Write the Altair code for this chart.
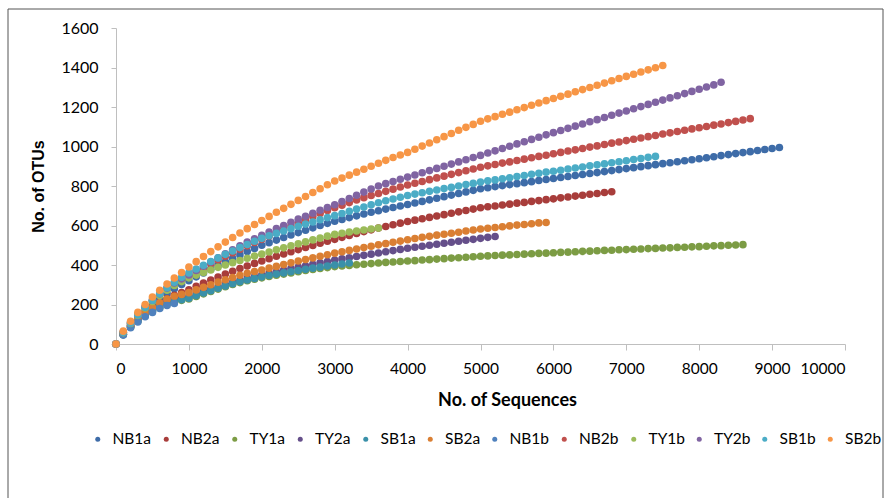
import altair as alt
import pandas as pd

series_names = ["NB1a", "NB2a", "TY1a", "TY2a", "SB1a", "SB2a",
                "NB1b", "NB2b", "TY1b", "TY2b", "SB1b", "SB2b"]
series_colors = ["#3E6CA8", "#A83D3B", "#7C9C44", "#654F8A", "#3A90A9", "#DA7F33",
                 "#4F81BD", "#C0504D", "#9BBB59", "#8064A2", "#4BACC6", "#F79646"]

step = 100  # sampling depth interval (sequences)

NB1a = [0, 52, 96, 135, 170, 202, 230, 256, 280, 301, 320,
        340, 360, 379, 398, 416, 434, 451, 468, 484, 500,
        513, 526, 539, 552, 564, 576, 588, 600, 611, 622,
        631, 640, 649, 658, 667, 675, 683, 691, 699, 706,
        714, 722, 730, 738, 746, 754, 762, 770, 778, 786,
        791, 797, 802, 807, 812, 817, 822, 828, 833, 838,
        843, 848, 853, 858, 863, 868, 873, 878, 883, 888,
        893, 898, 903, 908, 913, 918, 923, 928, 933, 938,
        943, 948, 954, 959, 964, 969, 974, 980, 985, 990,
        995]
NB2a = [0, 50, 92, 128, 159, 186, 209, 229, 246, 261, 275,
        292, 308, 324, 339, 354, 368, 382, 395, 408, 420,
        432, 444, 456, 467, 478, 489, 499, 510, 520, 530,
        540, 550, 560, 569, 578, 587, 595, 604, 612, 620,
        627, 634, 641, 648, 655, 662, 669, 676, 683, 690,
        695, 699, 704, 708, 713, 717, 722, 726, 731, 735,
        740, 744, 749, 753, 758, 762, 767, 771]
TY1a = [0, 47, 85, 117, 143, 166, 185, 201, 213, 221, 228,
        241, 254, 266, 278, 290, 301, 311, 320, 328, 335,
        342, 348, 354, 360, 366, 372, 377, 382, 387, 392,
        395, 398, 401, 404, 407, 410, 413, 415, 418, 420,
        422, 425, 427, 430, 432, 435, 437, 439, 442, 444,
        446, 448, 450, 451, 453, 455, 457, 459, 460, 462,
        464, 465, 467, 469, 470, 472, 474, 475, 477, 478,
        480, 481, 483, 484, 486, 487, 489, 490, 492, 493,
        495, 497, 498, 500, 501, 503]
TY2a = [0, 50, 90, 124, 153, 178, 199, 216, 229, 236, 242,
        255, 267, 279, 290, 301, 312, 322, 332, 341, 350,
        358, 366, 374, 382, 389, 396, 404, 411, 418, 425,
        431, 437, 443, 449, 455, 461, 467, 473, 479, 485,
        490, 495, 500, 505, 510, 515, 520, 525, 530, 535,
        540, 544]
SB1a = [0, 48, 86, 118, 145, 168, 188, 204, 216, 224, 232,
        245, 258, 270, 282, 294, 305, 315, 324, 332, 340,
        347, 354, 360, 366, 372, 378, 384, 389, 395, 400,
        405, 410]
SB2a = [0, 52, 94, 130, 160, 186, 208, 227, 242, 251, 260,
        274, 287, 300, 313, 325, 337, 348, 358, 367, 375,
        384, 393, 402, 411, 420, 428, 436, 444, 452, 460,
        467, 474, 481, 488, 495, 502, 508, 515, 521, 528,
        534, 540, 545, 551, 556, 561, 566, 572, 577, 582,
        586, 590, 594, 598, 602, 605, 609, 613, 615]
NB1b = [0, 45, 82, 112, 138, 160, 180, 195, 205]
NB2b = [0, 58, 106, 148, 186, 220, 252, 281, 307, 327, 345,
        366, 386, 406, 425, 444, 462, 480, 497, 514, 530,
        547, 564, 581, 597, 613, 629, 645, 661, 676, 690,
        703, 716, 729, 741, 752, 762, 773, 784, 795, 805,
        814, 823, 832, 841, 850, 859, 868, 877, 886, 895,
        902, 909, 916, 922, 929, 936, 943, 950, 956, 963,
        970, 977, 983, 990, 997, 1003, 1010, 1017, 1023, 1030,
        1037, 1043, 1050, 1056, 1063, 1069, 1076, 1082, 1089, 1095,
        1101, 1108, 1114, 1121, 1127, 1134, 1141]
TY1b = [0, 57, 104, 145, 182, 215, 245, 272, 296, 316, 335,
        349, 362, 375, 388, 400, 412, 423, 434, 445, 455,
        466, 477, 487, 497, 507, 517, 527, 536, 546, 555,
        561, 567, 572, 577, 582, 587]
TY2b = [0, 60, 108, 150, 188, 222, 254, 283, 309, 330, 350,
        372, 394, 415, 436, 457, 477, 497, 516, 533, 550,
        567, 584, 600, 616, 632, 647, 662, 677, 691, 705,
        721, 737, 753, 769, 785, 800, 812, 823, 834, 845,
        856, 867, 878, 889, 900, 911, 922, 933, 944, 955,
        967, 978, 990, 1001, 1013, 1024, 1036, 1047, 1059, 1070,
        1081, 1092, 1103, 1114, 1125, 1136, 1147, 1158, 1169, 1180,
        1191, 1202, 1213, 1224, 1235, 1246, 1257, 1268, 1279, 1290,
        1301, 1312, 1325]
SB1b = [0, 58, 106, 148, 186, 222, 255, 285, 313, 338, 360,
        380, 399, 418, 436, 454, 471, 488, 504, 520, 535,
        548, 560, 572, 584, 596, 607, 618, 629, 640, 650,
        661, 672, 683, 694, 705, 715, 725, 734, 743, 752,
        759, 766, 773, 780, 787, 793, 800, 807, 813, 820,
        826, 831, 837, 842, 848, 853, 859, 864, 870, 875,
        880, 886, 891, 896, 902, 907, 912, 918, 923, 928,
        934, 939, 945, 950]
SB2b = [0, 65, 115, 160, 200, 238, 272, 304, 334, 362, 390,
        417, 443, 468, 492, 516, 539, 562, 584, 605, 625,
        646, 667, 687, 707, 727, 747, 767, 786, 806, 825,
        840, 855, 870, 885, 900, 915, 930, 944, 957, 970,
        986, 1002, 1018, 1034, 1050, 1066, 1082, 1097, 1112, 1128,
        1140, 1151, 1163, 1174, 1186, 1197, 1209, 1220, 1232, 1243,
        1254, 1265, 1277, 1288, 1299, 1310, 1321, 1333, 1344, 1355,
        1366, 1377, 1388, 1399, 1410]

x_ticks = [0, 1000, 2000, 3000, 4000, 5000, 6000, 7000, 8000, 9000, 10000]
y_ticks = [0, 200, 400, 600, 800, 1000, 1200, 1400, 1600]

all_series = [NB1a, NB2a, TY1a, TY2a, SB1a, SB2a, NB1b, NB2b, TY1b, TY2b, SB1b, SB2b]
rows = []
for order, (name, vals) in enumerate(zip(series_names, all_series)):
    for i, v in enumerate(vals):
        rows.append({"Series": name, "Sequences": i * step, "OTUs": v, "order": order})
df = pd.DataFrame(rows)

FONT = "Lato, Liberation Sans, sans-serif"

points = alt.Chart(df).mark_circle(size=58, opacity=1).encode(
    x=alt.X("Sequences:Q",
            scale=alt.Scale(domain=[0, 10000], nice=False),
            axis=alt.Axis(values=x_ticks, format="d", labelOverlap=False,
                          title="No. of Sequences", grid=False,
                          labelFontSize=15.5, titleFontSize=18, titleFontWeight="bold",
                          labelPadding=11, titlePadding=15, tickSize=6,
                          titleX=391,
                          domainColor="#BFBFBF", tickColor="#BFBFBF",
                          labelColor="#000000", titleColor="#000000")),
    y=alt.Y("OTUs:Q",
            scale=alt.Scale(domain=[0, 1600], nice=False),
            axis=alt.Axis(values=y_ticks, format="d", labelOverlap=False,
                          title="No. of OTUs", grid=False,
                          labelFontSize=16, titleFontSize=16, titleFontWeight="bold",
                          labelPadding=13, titlePadding=14, tickSize=5,
                          domainColor="#BFBFBF", tickColor="#BFBFBF",
                          labelColor="#000000", titleColor="#000000", titleFont="Liberation Sans")),
    color=alt.Color("Series:N",
                    scale=alt.Scale(domain=series_names, range=series_colors),
                    sort=series_names,
                    legend=alt.Legend(title=None, orient="none", direction="horizontal",
                                      columns=12, legendX=-26, legendY=403,
                                      symbolType="circle", symbolSize=25,
                                      labelFontSize=15.5, labelOffset=7, columnPadding=6.5,
                                      labelColor="#000000", gridAlign="each",
                                      symbolStrokeWidth=0)),
    order=alt.Order("order:Q"),
).properties(width=729, height=316)

border = alt.Chart(pd.DataFrame({"a": [0]})).mark_rect(
    fill=None, stroke="#555555", strokeWidth=1
).encode(
    x=alt.value(-108), x2=alt.value(767), y=alt.value(-19), y2=alt.value(480)
)

chart = alt.layer(points, border).properties(
    autosize=alt.AutoSizeParams(type="none"),
    padding={"left": 116, "top": 28, "right": 41, "bottom": 154},
).configure(font=FONT).configure_view(stroke=None)

chart.save("out.html", embed_options={"renderer": "svg", "actions": False})
